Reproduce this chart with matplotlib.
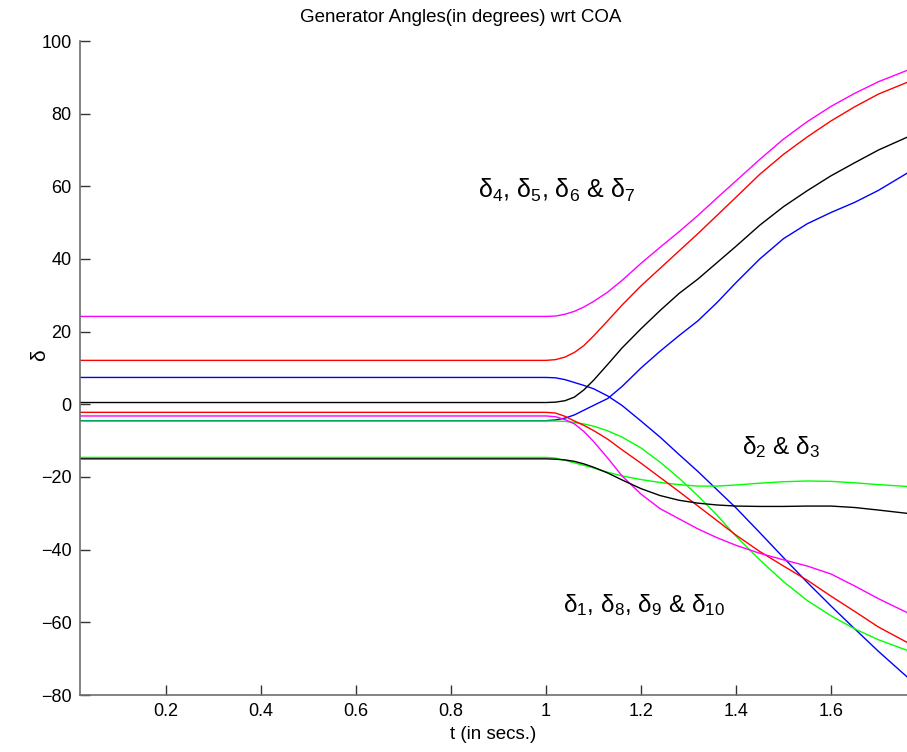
import matplotlib
matplotlib.use("Agg")
import matplotlib.pyplot as plt

plt.rcParams['font.family'] = ['Liberation Sans', 'DejaVu Sans']
plt.rcParams['mathtext.fontset'] = 'custom'
plt.rcParams['mathtext.rm'] = 'Liberation Sans'
plt.rcParams['mathtext.it'] = 'Liberation Sans'
plt.rcParams['mathtext.default'] = 'regular'

# time samples (s)
t = [0.019, 1.0, 1.02, 1.04, 1.06, 1.08, 1.10, 1.13, 1.16, 1.20, 1.24, 1.28,
     1.32, 1.36, 1.40, 1.45, 1.50, 1.55, 1.60, 1.65, 1.70, 1.76]

# generator angles (degrees) wrt COA
magenta_up = [24.2, 24.2, 24.3, 24.8, 25.6, 26.8, 28.3, 30.9, 34.1, 38.8, 43.2, 47.5,
              52.0, 56.8, 61.5, 67.4, 73.0, 77.8, 82.0, 85.6, 88.8, 91.9]
red_up = [12.1, 12.1, 12.3, 13.0, 14.3, 16.2, 18.8, 23.0, 27.3, 32.6, 37.4, 42.2,
          47.0, 52.0, 57.0, 63.3, 68.8, 73.6, 78.0, 81.9, 85.4, 88.6]
black_up = [0.5, 0.5, 0.6, 1.0, 2.0, 4.0, 6.6, 11.0, 15.5, 20.8, 25.8, 30.5,
            34.5, 39.0, 43.5, 49.3, 54.4, 58.8, 62.9, 66.5, 70.0, 73.5]
blue_up = [-4.5, -4.5, -4.3, -3.8, -2.9, -1.6, -0.3, 1.6, 4.9, 10.0, 14.6, 18.9,
           23.0, 28.0, 33.5, 40.0, 45.6, 49.7, 52.8, 55.6, 58.9, 63.6]
blue_down = [7.4, 7.4, 7.3, 6.8, 6.0, 5.2, 4.3, 2.3, -0.3, -4.6, -9.0, -13.8,
             -18.5, -23.5, -28.5, -35.3, -42.2, -49.0, -55.5, -61.8, -68.0, -75.0]
red_down = [-2.2, -2.2, -2.4, -3.3, -4.6, -5.8, -7.2, -9.6, -12.5, -16.2, -20.1, -24.0,
            -28.0, -32.0, -36.0, -40.5, -44.5, -48.4, -52.8, -57.0, -61.3, -65.5]
magenta_down = [-3.2, -3.2, -3.4, -4.2, -5.4, -7.5, -10.2, -14.8, -19.7, -24.7, -28.7, -31.5,
                -34.3, -36.7, -38.8, -41.0, -42.8, -44.5, -46.7, -50.0, -53.5, -57.3]
green_down = [-4.6, -4.6, -4.6, -4.7, -5.0, -5.4, -6.0, -7.3, -9.0, -12.0, -15.9, -20.3,
              -25.2, -30.5, -36.3, -42.8, -48.8, -54.0, -58.2, -61.8, -64.8, -67.7]
green_flat = [-14.6, -14.6, -14.8, -15.4, -16.1, -16.8, -17.5, -18.7, -19.7, -20.7, -21.5, -22.1,
              -22.5, -22.5, -22.2, -21.7, -21.3, -21.1, -21.2, -21.6, -22.1, -22.6]
black_flat = [-15.0, -15.0, -15.1, -15.3, -15.7, -16.4, -17.3, -18.9, -20.8, -23.2, -25.1, -26.4,
              -27.2, -27.7, -28.0, -28.1, -28.1, -28.0, -28.0, -28.4, -29.1, -30.0]

series = [
    (blue_down, '#0000ff'), (blue_up, '#0000ff'),
    (green_flat, '#00ff00'), (green_down, '#00ff00'),
    (red_up, '#ff0000'), (red_down, '#ff0000'),
    (magenta_up, '#ff00ff'), (magenta_down, '#ff00ff'),
    (black_up, '#000000'), (black_flat, '#000000'),
]

x_ticks = [0.2, 0.4, 0.6, 0.8, 1.0, 1.2, 1.4, 1.6]
x_tick_labels = ['0.2', '0.4', '0.6', '0.8', '1', '1.2', '1.4', '1.6']
y_ticks = [-80, -60, -40, -20, 0, 20, 40, 60, 80, 100]

fig = plt.figure(figsize=(9.07, 7.52), dpi=100)
ax = fig.add_axes([80 / 907, 1 - 695 / 752, 1 - 80 / 907, (695 - 41) / 752])

for vals, col in series:
    ax.plot(t, vals, color=col, lw=1.0)

ax.set_xlim(0.019, 1.76)
ax.set_ylim(-80, 100)
ax.set_xticks(x_ticks)
ax.set_xticklabels(x_tick_labels)
ax.set_yticks(y_ticks)

for s in ['top', 'right']:
    ax.spines[s].set_visible(False)
for s in ['left', 'bottom']:
    ax.spines[s].set_color('#6e6e6e')
    ax.spines[s].set_linewidth(1.2)
ax.tick_params(direction='in', length=7, width=1, color='#333333',
               labelsize=13, pad=6)

fig.text(461 / 907, 1 - 18 / 752, 'Generator Angles(in degrees) wrt COA',
         fontsize=13.5, ha='center', va='center')
ax.set_xlabel('t (in secs.)', fontsize=13.5, labelpad=4)
fig.text(40 / 907, 1 - 355 / 752, 'δ', fontsize=15, rotation=90,
         ha='center', va='center')

ax.text(0.857, 58.9, r'δ$_4$, δ$_5$, δ$_6$ & δ$_7$', fontsize=18, va='center', ha='left')
ax.text(1.413, -11.8, r'δ$_2$ & δ$_3$', fontsize=17.5, va='center', ha='left')
ax.text(1.036, -55.3, r'δ$_1$, δ$_8$, δ$_9$ & δ$_{10}$', fontsize=17.5, va='center', ha='left')

fig.savefig('out.png', dpi=100)
